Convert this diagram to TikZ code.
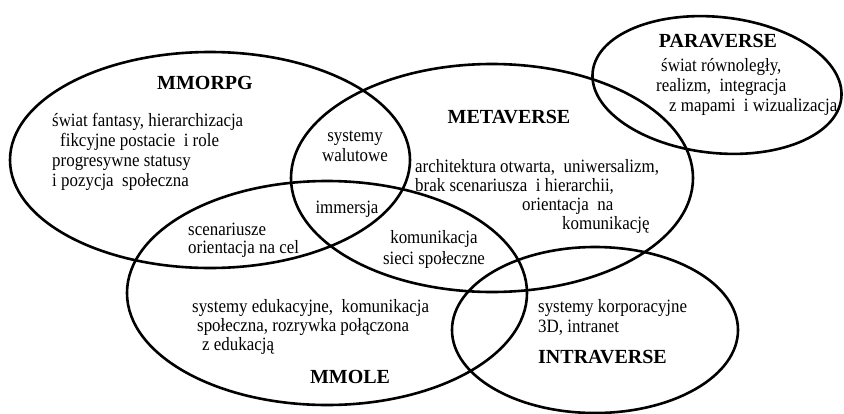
\documentclass[tikz,border=0pt]{standalone}
\usepackage{fontspec}
\setmainfont{Liberation Serif}
\newfontfamily\narrowserif[FakeStretch=0.9]{Liberation Serif}
\usetikzlibrary{positioning}
\begin{document}
\begin{tikzpicture}[x=1pt, y=-1pt,
    ring/.style={draw=black, line width=2.6pt},
    bodytxt/.style={inner sep=0pt, anchor=base west, align=left, font=\narrowserif\fontsize{18.8}{20}\selectfont},
    midtxt/.style={inner sep=0pt, anchor=base, align=center, font=\narrowserif\fontsize{18.8}{20}\selectfont},
    titletxt/.style={inner sep=0pt, anchor=base, font=\bfseries\fontsize{20}{24}\selectfont}
  ]
  \useasboundingbox (0,0) rectangle (844,413);
  % the five worlds
  \draw[ring] (210,160) ellipse [x radius=200, y radius=108];
  \draw[ring] (492,178) ellipse [x radius=201, y radius=114];
  \draw[ring] (717,85) ellipse [x radius=125, y radius=68, rotate=-6];
  \draw[ring] (327,293) ellipse [x radius=200, y radius=112];
  \draw[ring] (595,330) ellipse [x radius=143, y radius=83];
  % titles
  \node[titletxt] (mmorpg) at (205,89) {MMORPG};
  \node[titletxt] (metaverse) at (509,123) {METAVERSE};
  \node[titletxt] (paraverse) at (718,47) {PARAVERSE};
  \node[titletxt] (mmole) at (350,383) {MMOLE};
  \node[titletxt, anchor=base west] (intraverse) at (538,363) {INTRAVERSE};
  % descriptions (base = last line)
  \node[bodytxt] (mmorpgtxt) at (52,186) {świat fantasy, hierarchizacja\\\hspace*{8pt}fikcyjne postacie\ \ i role\\progresywne statusy\\i pozycja\ \ społeczna};
  \node[midtxt] (waluty) at (355,161) {systemy\\walutowe};
  \node[midtxt] (immersja) at (347,213) {immersja};
  \node[bodytxt, font=\narrowserif\fontsize{18.8}{19}\selectfont] (metatxt) at (415,229) {architektura otwarta,\ \ uniwersalizm,\\brak scenariusza\ \ i hierarchii,\\\hspace*{107pt}orientacja\ \ na\\\hspace*{147pt}komunikację};
  \node[bodytxt] (paratxt) at (656,111) {\hspace*{5pt}świat równoległy,\\realizm,\ \ integracja\\\hspace*{13pt}z mapami\ \ i wizualizacja};
  \node[bodytxt, font=\narrowserif\fontsize{18.8}{18}\selectfont] (scenariusze) at (188,253) {scenariusze\\orientacja na cel};
  \node[midtxt, font=\narrowserif\fontsize{18.8}{21}\selectfont] (komunikacja) at (434,264) {komunikacja\\sieci społeczne};
  \node[bodytxt, font=\narrowserif\fontsize{18.8}{19}\selectfont] (mmoletxt) at (192,350) {systemy edukacyjne,\ \ komunikacja\\\hspace*{5pt}społeczna, rozrywka połączona\\\hspace*{10pt}z edukacją};
  \node[bodytxt] (intratxt) at (538,332) {systemy korporacyjne\\3D, intranet};
\end{tikzpicture}
\end{document}
